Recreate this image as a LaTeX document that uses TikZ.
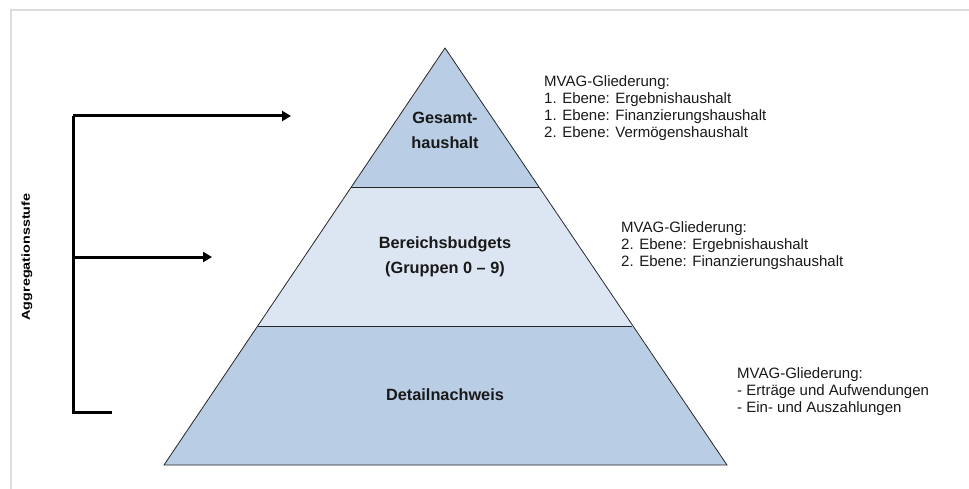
\documentclass[tikz,border=0pt]{standalone}
\usepackage{fontspec}
\setmainfont{Liberation Sans}
\usetikzlibrary{arrows.meta}
\definecolor{pyrdark}{HTML}{B9CDE5}
\definecolor{pyrlight}{HTML}{DCE6F2}
\definecolor{framegray}{HTML}{DDDDDD}
\begin{document}
\begin{tikzpicture}[x=1pt,y=-1pt,
  frameline/.style={draw=framegray,line width=1.5pt},
  layer/.style={draw=black!85,line width=0.8pt,line join=miter},
  bracket/.style={draw=black,line width=3pt,line join=miter},
  tiparrow/.style={-{Triangle[length=9pt,width=10pt]}},
  levellabel/.style={font=\fontsize{16.3}{25}\selectfont\bfseries,align=center,inner sep=0pt,text=black!90},
  infotext/.style={font=\fontsize{15}{17}\selectfont,align=left,anchor=north west,inner sep=0pt,text=black!90},
  sidelabel/.style={font=\fontsize{11.5}{13}\selectfont\bfseries,rotate=90,inner sep=0pt}]
\useasboundingbox (0,0) rectangle (969,489);
\draw[frameline] (11,489) -- (11,10) -- (969,10);

% pyramid geometry
\coordinate (apex) at (445,48);
\coordinate (l1) at (351.3,187);
\coordinate (r1) at (538.7,187);
\coordinate (l2) at (257.7,326);
\coordinate (r2) at (632.3,326);
\coordinate (bl) at (164,465);
\coordinate (br) at (727,465);

\fill[pyrdark] (apex) -- (r1) -- (l1) -- cycle;
\fill[pyrlight] (l1) -- (r1) -- (r2) -- (l2) -- cycle;
\fill[pyrdark] (l2) -- (r2) -- (br) -- (bl) -- cycle;
\draw[layer] (apex) -- (br) -- (bl) -- cycle;
\draw[layer] (l1) -- (r1);
\draw[layer] (l2) -- (r2);

% level labels
\node[levellabel] (gesamt) at (445,130.5) {Gesamt-\\haushalt};
\node[levellabel] (bereich) at (445,257) {Bereichsbudgets\\(Gruppen 0 -- 9)};
\node[levellabel] (detail) at (445,395) {Detailnachweis};

% info texts
\node[infotext] (info1) at (544,75) {MVAG-Gliederung:\\1. Ebene: Ergebnishaushalt\\1. Ebene: Finanzierungshaushalt\\2. Ebene: Vermögenshaushalt};
\node[infotext] (info2) at (621,221) {MVAG-Gliederung:\\2. Ebene: Ergebnishaushalt\\2. Ebene: Finanzierungshaushalt};
\node[infotext] (info3) at (737,367) {MVAG-Gliederung:\\- Erträge und Aufwendungen\\- Ein- und Auszahlungen};

% aggregation bracket
\coordinate (btop) at (73,116);
\coordinate (bmid) at (73,257);
\coordinate (bbot) at (73,412);
\coordinate (a1) at (291,116);
\coordinate (a2) at (212,257);
\coordinate (stub) at (112,412);
\draw[bracket] (stub) -- (bbot) -- (btop);
\draw[bracket,tiparrow,line join=miter] (btop) -- (a1);
\draw[bracket,tiparrow] (bmid) -- (a2);
\node[sidelabel] (agg) at (27,257) {\scalebox{1.25}[1]{Aggregationsstufe}};
\end{tikzpicture}
\end{document}
